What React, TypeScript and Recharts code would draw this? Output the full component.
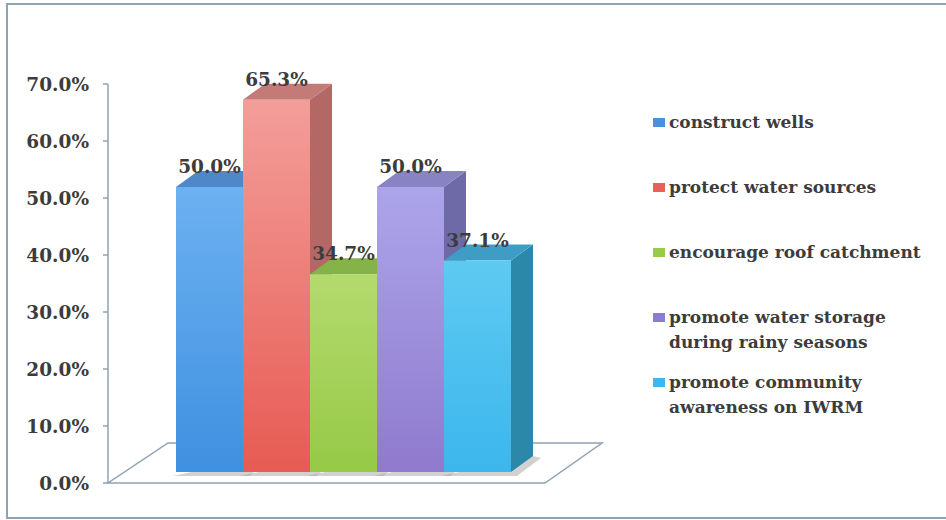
import { BarChart, Bar, XAxis, YAxis, Legend, LabelList, ReferenceArea } from 'recharts';

const categories = ['strategies'];
const seriesNames = [
  'construct wells',
  'protect water sources',
  'encourage roof catchment',
  'promote water storage\nduring rainy seasons',
  'promote community\nawareness on IWRM',
];
const seriesValues = [50.0, 65.3, 34.7, 50.0, 37.1];
const yTicks = [0, 10, 20, 30, 40, 50, 60, 70];

// face colours per series: front gradient (top, bottom), top face, side face
const frontTop = ['#6cb1f1', '#f39e9a', '#b4da6e', '#aca5ea', '#5ecaf2'];
const frontBottom = ['#3f90e0', '#e65b53', '#96c946', '#8f7acd', '#3cb6ec'];
const topFace = ['#4f88c9', '#c47a76', '#86b24a', '#8884c4', '#3d9dc4'];
const sideFace = ['#3a70b0', '#b46865', '#6a9a38', '#6e6aa8', '#2c88a8'];
const swatch = ['#4a90e0', '#e8605a', '#98cc48', '#8c7cd0', '#3cb8ec'];

const FONT = '"DejaVu Serif", serif';
const TEXT = '#3c3c3c';
const AXIS = '#8fa3b5';

// 3D geometry
const FX = 17; // front face pushed right
const FY = 11; // front face pushed up
const DX = 22; // bar depth, x
const DY = 16; // bar depth, y

const data = categories.map((name) => {
  const row: Record<string, string | number> = { name };
  seriesValues.forEach((v, i) => { row[`s${i}`] = v; });
  return row;
});

function makeShape(i: number) {
  return (props: any) => {
    const { x, y, width, height } = props;
    const X = x + FX;
    const Y = y - FY;
    const w = width;
    const h = height;
    const b = Y + h;
    const gid = `front-${i}`;
    return (
      <g>
        <defs>
          <linearGradient id={gid} x1="0" y1="0" x2="0" y2="1">
            <stop offset="0%" stopColor={frontTop[i]} />
            <stop offset="100%" stopColor={frontBottom[i]} />
          </linearGradient>
        </defs>
        {/* soft shadow on the floor */}
        <polygon
          points={`${X - 3},${b + 4} ${X + w + 6},${b + 4} ${X + w + DX + 8},${b - DY + 2} ${X + w + DX},${b - DY}`}
          fill="#9a9a9a"
          opacity={0.45}
        />
        <polygon
          points={`${X + w},${Y} ${X + w + DX},${Y - DY} ${X + w + DX},${b - DY} ${X + w},${b}`}
          fill={sideFace[i]}
        />
        <polygon
          points={`${X},${Y} ${X + w},${Y} ${X + w + DX},${Y - DY} ${X + DX},${Y - DY}`}
          fill={topFace[i]}
        />
        <rect x={X} y={Y} width={w} height={h} fill={`url(#${gid})`} />
      </g>
    );
  };
}

function ValueLabel(props: any) {
  const { x, y, width, value } = props;
  return (
    <text
      x={x + FX + width / 2}
      y={y - FY - 14}
      textAnchor="middle"
      fill={TEXT}
      fontFamily={FONT}
      fontWeight="bold"
      fontSize={18.5}
    >
      {`${Number(value).toFixed(1)}%`}
    </text>
  );
}

function Floor(props: any) {
  const { x, y, width, height } = props;
  const b = y + height;
  return (
    <polygon
      points={`${x},${b} ${x + width},${b} ${x + width + 57},${b - 40} ${x + 60},${b - 40}`}
      fill="#ffffff"
      stroke={AXIS}
      strokeWidth={1.5}
    />
  );
}

function LegendBox() {
  return (
    <div style={{ fontFamily: FONT, fontWeight: 'bold', fontSize: 17, color: TEXT }}>
      {seriesNames.map((n, i) => (
        <div key={n} style={{ position: 'relative', height: 65, paddingLeft: 16, lineHeight: '25px', whiteSpace: 'pre-line' }}>
          <span style={{ position: 'absolute', left: 0, top: 8, width: 12, height: 9, background: swatch[i] }} />
          {n}
        </div>
      ))}
    </div>
  );
}

export default function App() {
  return (
    <div style={{ position: 'absolute', left: 0, top: 0, width: 946, height: 520, background: '#ffffff' }}>
      <div
        style={{
          position: 'absolute', left: 6, top: 3, width: 940, height: 516, boxSizing: 'border-box',
          borderLeft: `2px solid ${AXIS}`, borderTop: `2px solid ${AXIS}`, borderBottom: `2px solid ${AXIS}`,
        }}
      />
      <div style={{ position: 'absolute', left: 0, top: 0 }}>
        <BarChart
          width={946}
          height={520}
          data={data}
          margin={{ top: 84, right: 401, bottom: 37, left: 0 }}
          barGap={0}
          barSize={67}
        >
          <XAxis dataKey="name" hide />
          <YAxis
            width={108}
            domain={[0, 70]}
            ticks={yTicks}
            interval={0}
            tickFormatter={(v: number) => `${v.toFixed(1)}%`}
            tick={{ fill: TEXT, fontSize: 18.5, fontWeight: 'bold', fontFamily: FONT }}
            axisLine={{ stroke: AXIS, strokeWidth: 1.5 }}
            tickLine={{ stroke: AXIS, strokeWidth: 1.5 }}
            tickSize={5}
            tickMargin={14}
          />
          <ReferenceArea y1={0} y2={70} shape={Floor} ifOverflow="visible" />
          {seriesValues.map((_, i) => (
            <Bar key={i} dataKey={`s${i}`} name={seriesNames[i]} shape={makeShape(i)} isAnimationActive={false}>
              <LabelList dataKey={`s${i}`} content={ValueLabel} />
            </Bar>
          ))}
          <Legend
            layout="horizontal"
            verticalAlign="middle"
            align="center"
            wrapperStyle={{ left: 653, top: 110, width: 290 }}
            content={LegendBox}
          />
        </BarChart>
      </div>
    </div>
  );
}
